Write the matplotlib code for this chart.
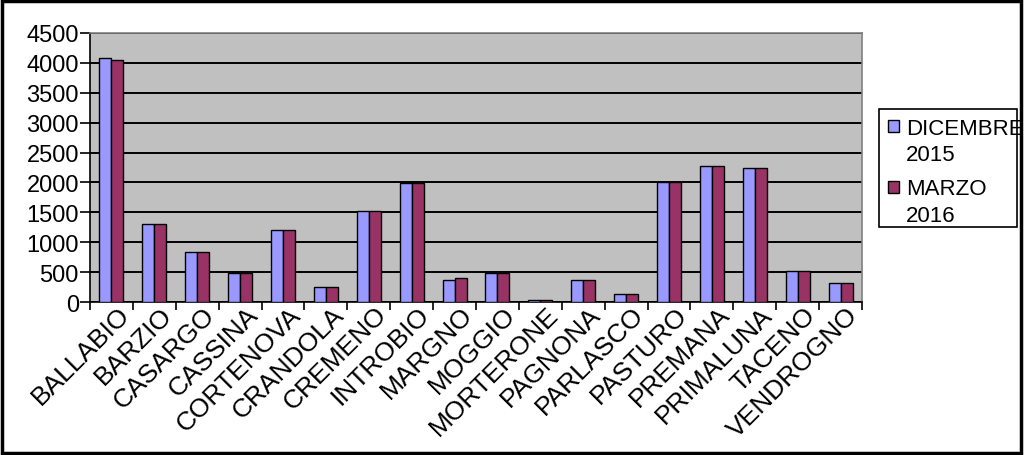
import numpy as np
import matplotlib
matplotlib.use("Agg")
import matplotlib.pyplot as plt
import matplotlib.transforms as mtransforms
from matplotlib.patches import Rectangle
from matplotlib.container import BarContainer
from matplotlib.legend_handler import HandlerPatch, update_from_first_child

plt.rcParams['font.family'] = ['Liberation Sans', 'DejaVu Sans']

# data
comuni = ["BALLABIO", "BARZIO", "CASARGO", "CASSINA", "CORTENOVA", "CRANDOLA",
          "CREMENO", "INTROBIO", "MARGNO", "MOGGIO", "MORTERONE", "PAGNONA",
          "PARLASCO", "PASTURO", "PREMANA", "PRIMALUNA", "TACENO", "VENDROGNO"]
dicembre_2015 = [4075, 1310, 830, 490, 1210, 245, 1525, 1990, 375, 490,
                 30, 370, 135, 2010, 2275, 2245, 520, 320]
marzo_2016 = [4045, 1310, 830, 485, 1210, 245, 1525, 1990, 405, 485,
              30, 370, 135, 2010, 2275, 2245, 520, 320]
serie_labels = ["DICEMBRE\n2015", "MARZO\n2016"]
y_ticks = np.arange(0, 4501, 500)

fig = plt.figure(figsize=(10.24, 4.56), dpi=100)
ax = fig.add_axes([90 / 1024, 1 - 303 / 456, 772 / 1024, 269 / 456])
ax.set_facecolor("#C0C0C0")

x = np.arange(len(comuni))
w = 0.28
ax.bar(x - w / 2, dicembre_2015, w, color="#9999FF", edgecolor="black",
       linewidth=1, label=serie_labels[0], zorder=3)
ax.bar(x + w / 2, marzo_2016, w, color="#993366", edgecolor="black",
       linewidth=1, label=serie_labels[1], zorder=3)

ax.set_xlim(-0.5, len(comuni) - 0.5)
ax.set_ylim(0, 4500)
ax.set_yticks(y_ticks)
ax.yaxis.grid(True, color="black", linewidth=1.4, zorder=1)
ax.set_axisbelow(True)

# tick marks between categories, labels on the centres
ax.set_xticks(x)
ax.set_xticks(np.arange(-0.5, len(comuni)), minor=True)
ax.tick_params(axis="x", which="major", length=0, pad=6)
ax.tick_params(axis="x", which="minor", length=6, width=1.2, direction="out")
ax.tick_params(axis="y", length=7, width=1.2, direction="out", labelsize=17, pad=1)
offset = mtransforms.ScaledTranslation(14 / 100, 0, fig.dpi_scale_trans)
ax.set_xticklabels(comuni, rotation=45, ha="right", va="center",
                   rotation_mode="anchor", fontsize=19)
for lab in ax.get_xticklabels():
    lab.set_transform(lab.get_transform() + offset)

for side in ["left", "bottom"]:
    ax.spines[side].set_color("black")
    ax.spines[side].set_linewidth(1.2)
for side in ["top", "right"]:
    ax.spines[side].set_color("#808080")
    ax.spines[side].set_linewidth(1.2)


# legend square sits on the first line of the two-line label
def square_top(legend, orig_handle, xdescent, ydescent, width, height, fontsize):
    return Rectangle((-xdescent, 0.78 * fontsize), width, 0.54 * fontsize)


leg = fig.legend(loc="upper left", bbox_to_anchor=(888 / 1024, 1 - 119 / 456),
                 fontsize=16, frameon=False, handlelength=0.5, handletextpad=0.32,
                 borderpad=0, labelspacing=0.6, borderaxespad=0,
                 handler_map={BarContainer: HandlerPatch(patch_func=square_top,
                                                         update_func=update_from_first_child)})
for t in leg.get_texts():
    t.set_linespacing(1.32)

# legend box drawn on its own, the label runs past it as in the original
fig.patches.append(Rectangle((879 / 1024, 1 - 228 / 456), 138 / 1024, 118 / 456,
                             transform=fig.transFigure, fill=False,
                             edgecolor="black", linewidth=1.2))

# outer frame of the picture
fig.patches.append(Rectangle((0.002, 0.005), 0.995, 0.99, transform=fig.transFigure,
                             fill=False, edgecolor="black", linewidth=2.5, zorder=5))

fig.savefig("out.png", dpi=100)
